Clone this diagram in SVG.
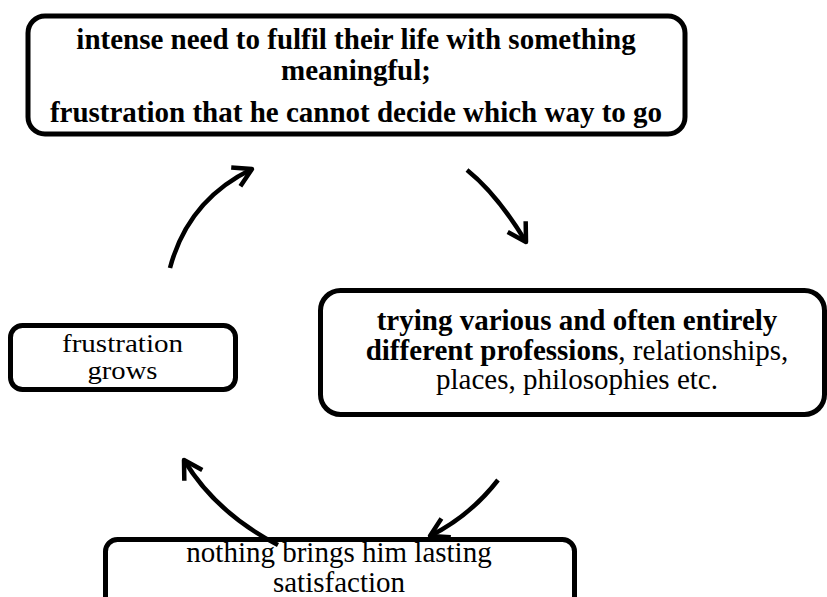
<svg xmlns="http://www.w3.org/2000/svg" width="827" height="597" viewBox="0 0 827 597">
  <style>
    .box { fill: #ffffff; stroke: #000000; stroke-width: 5; }
    .label { font-family: "Liberation Serif", "Times New Roman", serif; font-size: 29px; fill: #000000; text-anchor: middle; }
    .small { font-size: 25px; }
    .b { font-weight: bold; }
    .link { fill: none; stroke: #000000; stroke-width: 4.5; stroke-linecap: butt; marker-end: url(#head); }
  </style>
  <defs>
    <marker id="head" markerUnits="userSpaceOnUse" orient="auto" refX="0" refY="0" markerWidth="40" markerHeight="40" viewBox="-24 -20 30 40" overflow="visible">
      <path d="M-18,-10.5 L0,0 L-18,10.5" fill="none" stroke="#000000" stroke-width="4.5" stroke-linejoin="round" stroke-linecap="butt"/>
    </marker>
  </defs>

  <rect width="827" height="597" fill="#ffffff"/>

  <!-- nodes -->
  <g id="need">
    <rect class="box" x="28" y="16" width="657" height="118" rx="17"/>
    <text class="label b" x="356" y="49">intense need to fulfil their life with something</text>
    <text class="label b" x="356" y="80">meaningful;</text>
    <text class="label b" x="356" y="122">frustration that he cannot decide which way to go</text>
  </g>

  <g id="trying">
    <rect class="box" x="320.5" y="290.5" width="504" height="124" rx="20"/>
    <text class="label" x="577" y="330"><tspan class="b">trying various and often entirely</tspan></text>
    <text class="label" x="577" y="360"><tspan class="b">different professions</tspan>, relationships,</text>
    <text class="label" x="577" y="389">places, philosophies etc.</text>
  </g>

  <g id="grows">
    <rect class="box" x="10.5" y="325.5" width="225" height="64" rx="12"/>
    <text class="label small" x="122.5" y="352" textLength="121" lengthAdjust="spacingAndGlyphs">frustration</text>
    <text class="label small" x="122.5" y="379" textLength="70" lengthAdjust="spacingAndGlyphs">grows</text>
  </g>

  <g id="nothing">
    <rect class="box" x="105.5" y="539.5" width="469" height="72" rx="12"/>
    <text class="label" x="339" y="562">nothing brings him lasting</text>
    <text class="label" x="339" y="592">satisfaction</text>
  </g>

  <!-- connectors -->
  <g id="connectors">
    <path class="link" d="M170,268 Q188,200 252,169"/>
    <path class="link" d="M467,170 Q497,194 526,242"/>
    <path class="link" d="M498,480 Q470,516 430,536"/>
    <path class="link" d="M278,545 Q216,513 184,460"/>
  </g>
</svg>
